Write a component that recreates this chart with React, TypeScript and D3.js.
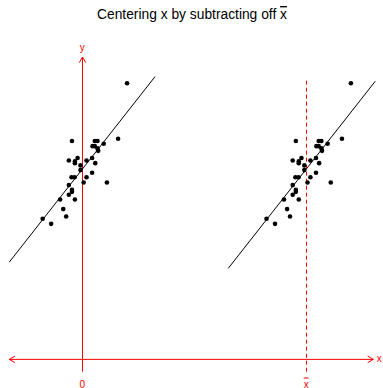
import React, { useRef, useEffect } from "react";
import * as d3 from "d3";

// original x values (before centering) and y values
const xValues = [12.0, 9.54, 10.56, 10.68, 10.46, 10.56, 10.96, 11.6, 10.68, 10.71,
  10.44, 9.4, 9.67, 9.67, 9.79, 10.19, 10.58, 9.92, 9.92, 10.44,
  9.52, 9.66, 10.19, 10.06, 11.1, 9.4, 9.54, 9.54, 9.4, 9.01,
  9.67, 9.15, 9.28, 8.23, 8.61]
const yValues = [12.33, 9.75, 9.75, 9.75, 9.52, 9.52, 9.63, 9.85, 9.42, 9.31,
  8.99, 8.88, 8.84, 8.76, 8.99, 8.88, 8.76, 8.66, 8.45, 8.33,
  8.13, 8.13, 8.13, 7.9, 7.9, 7.78, 7.57, 7.48, 7.35, 7.14,
  7.14, 6.71, 6.38, 6.28, 6.05]

const xbar = 10
const fitCenter = 8.49   // fitted y at x = xbar
const fitSlope = 1.272
const leftLineRange = [-3.26, 3.25]   // centered x
const rightLineRange = [6.52, 13.09]  // original x

const xLimits = [-3.26, 13.0]
const yLimits = [-0.55, 13.5]
const dashedTop = 12.5

const App = () => {
  const svgRef = useRef()
  const width = 383
  const height = 388

  useEffect(() => {
    const svg = d3.select(svgRef.current)
    svg.selectAll("*").remove()

    const xScale = d3.scaleLinear().domain(xLimits).range([9.3, 373.3])
    const yScale = d3.scaleLinear().domain(yLimits).range([371.7, 57])
    const red = "#ff0000"
    const font = "'Liberation Sans', Arial, sans-serif"
    const crisp = v => Math.floor(v) + 0.5

    // title
    const title = svg.append("text")
      .attr("x", 192)
      .attr("y", 19)
      .attr("text-anchor", "middle")
      .attr("font-family", font)
      .attr("font-size", 13.8)
      .attr("fill", "#000")
    title.append("tspan").text("Centering x by subtracting off ")
    title.append("tspan").text("x").style("text-decoration", "overline")

    const arrowHead = (x, y, dx, dy) => {
      // small open arrow head, like R's arrows()
      const len = 6.5, ang = Math.PI / 6
      const a = Math.atan2(dy, dx)
      const p1 = [x - len * Math.cos(a - ang), y - len * Math.sin(a - ang)]
      const p2 = [x - len * Math.cos(a + ang), y - len * Math.sin(a + ang)]
      return `M${p1[0]},${p1[1]}L${x},${y}L${p2[0]},${p2[1]}`
    }

    const axes = svg.append("g").attr("stroke", red).attr("fill", "none").attr("stroke-width", 1)

    // horizontal x axis with arrows at both ends
    const y0 = yScale(0)
    axes.append("line")
      .attr("x1", xScale(xLimits[0])).attr("x2", xScale(xLimits[1]))
      .attr("y1", y0).attr("y2", y0)
    axes.append("path").attr("d", arrowHead(xScale(xLimits[0]), y0, -1, 0))
    axes.append("path").attr("d", arrowHead(xScale(xLimits[1]), y0, 1, 0))

    // vertical y axis at x = 0
    const x0 = crisp(xScale(0))
    axes.append("line")
      .attr("x1", x0).attr("x2", x0)
      .attr("y1", yScale(yLimits[0])).attr("y2", yScale(yLimits[1]))
    axes.append("path").attr("d", arrowHead(x0, yScale(yLimits[1]), 0, -1))

    // dashed line at x bar
    const xb = crisp(xScale(xbar))
    axes.append("line")
      .attr("x1", xb).attr("x2", xb)
      .attr("y1", yScale(yLimits[0])).attr("y2", yScale(dashedTop))
      .attr("stroke-dasharray", "4,3")

    const labels = svg.append("g")
      .attr("font-family", font)
      .attr("font-size", 10)
      .attr("fill", red)
    labels.append("text").attr("x", xScale(0)).attr("y", 51).attr("text-anchor", "middle").text("y")
    labels.append("text").attr("x", xScale(xLimits[1]) + 3.5).attr("y", y0 + 3).text("x")
    labels.append("text").attr("x", xScale(0)).attr("y", 387.5).attr("text-anchor", "middle").text("0")
    labels.append("text").attr("x", xScale(xbar)).attr("y", 387.5).attr("text-anchor", "middle")
      .style("text-decoration", "overline").text("x")

    // fitted lines
    const fitLine = d3.line()
      .x(d => xScale(d[0]))
      .y(d => yScale(d[1]))
    const leftLine = leftLineRange.map(x => [x, fitCenter + fitSlope * x])
    const rightLine = rightLineRange.map(x => [x, fitCenter + fitSlope * (x - xbar)])
    svg.selectAll(".fit")
      .data([leftLine, rightLine])
      .join("path")
      .attr("class", "fit")
      .attr("d", d => fitLine(d))
      .attr("fill", "none")
      .attr("stroke", "#000")
      .attr("stroke-width", 1)

    const pts = xValues.map((x, i) => ({ x, y: yValues[i] }))

    // centered copy on the left
    svg.selectAll(".centered")
      .data(pts)
      .join("circle")
      .attr("class", "centered")
      .attr("cx", d => xScale(d.x - xbar))
      .attr("cy", d => yScale(d.y))
      .attr("r", 2.3)
      .attr("fill", "#000")

    // original on the right
    svg.selectAll(".original")
      .data(pts)
      .join("circle")
      .attr("class", "original")
      .attr("cx", d => xScale(d.x))
      .attr("cy", d => yScale(d.y))
      .attr("r", 2.3)
      .attr("fill", "#000")
  }, [])

  return (
    <svg ref={svgRef} width={width} height={height}
      style={{ position: "absolute", left: 0, top: 0, background: "#fff" }} />
  )
}

export default App
